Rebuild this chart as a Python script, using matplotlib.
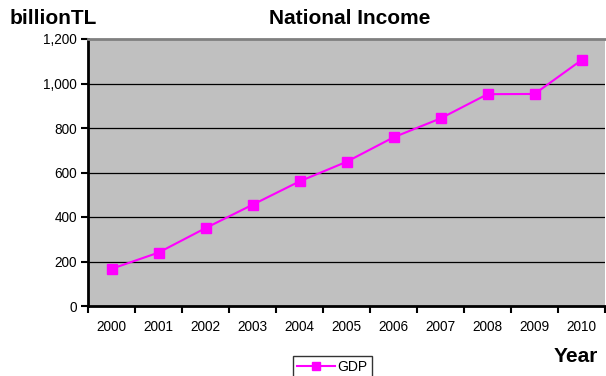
import numpy as np
import matplotlib
matplotlib.use('Agg')
import matplotlib.pyplot as plt

plt.rcParams['font.family'] = ['Liberation Sans', 'DejaVu Sans']

# data
years = ['2000', '2001', '2002', '2003', '2004', '2005', '2006', '2007', '2008', '2009', '2010']
gdp = [167, 240, 350, 455, 560, 648, 758, 843, 952, 953, 1105]
y_ticks = [0, 200, 400, 600, 800, 1000, 1200]
y_labels = ['0', '200', '400', '600', '800', '1,000', '1,200']

W, H = 606, 376
fig = plt.figure(figsize=(W / 100, H / 100), dpi=100)
ax = fig.add_axes([88 / W, 1 - 306 / H, (605 - 88) / W, (306 - 39) / H])
ax.set_facecolor('#C0C0C0')

x = np.arange(len(years))
ax.plot(x, gdp, color='#FF00FF', lw=1.5, marker='s', ms=7.5, mec='#FF00FF', label='GDP', zorder=3)

ax.set_xlim(-0.5, len(years) - 0.5)
ax.set_ylim(0, 1200)

# gridlines
ax.set_yticks(y_ticks)
ax.set_yticklabels(y_labels, fontsize=9.8)
for v in y_ticks[1:-1]:
    ax.axhline(v, color='black', lw=0.9, zorder=1)

# category labels between boundary ticks
ax.set_xticks(x)
ax.set_xticklabels(years, fontsize=9.8)
ax.tick_params(axis='x', which='major', length=0, pad=10)
ax.set_xticks(np.arange(len(years) + 1) - 0.5, minor=True)
ax.tick_params(axis='x', which='minor', length=5, width=1.5, direction='out', color='black')
ax.tick_params(axis='y', length=5, width=1.5, direction='out', pad=3)

for s in ['left', 'bottom']:
    ax.spines[s].set_linewidth(2)
    ax.spines[s].set_color('black')
ax.spines['top'].set_color('#808080')
ax.spines['top'].set_linewidth(2)
ax.spines['right'].set_visible(False)

fig.text(350 / W, 1 - 18 / H, 'National Income', ha='center', va='center',
         fontsize=15, fontweight='bold')
fig.text(10 / W, 1 - 18 / H, 'billionTL', ha='left', va='center',
         fontsize=15, fontweight='bold')
fig.text(598 / W, 1 - 356 / H, 'Year', ha='right', va='center',
         fontsize=15, fontweight='bold')

leg = fig.legend(loc='upper left', bbox_to_anchor=(293 / W, 1 - 356 / H),
                 fontsize=10, frameon=True, fancybox=False, edgecolor='black',
                 handlelength=2.7, borderpad=0.3, handletextpad=0.2,
                 borderaxespad=0, markerscale=0.75)
leg.get_frame().set_linewidth(1)

fig.savefig('out.png', dpi=100)
